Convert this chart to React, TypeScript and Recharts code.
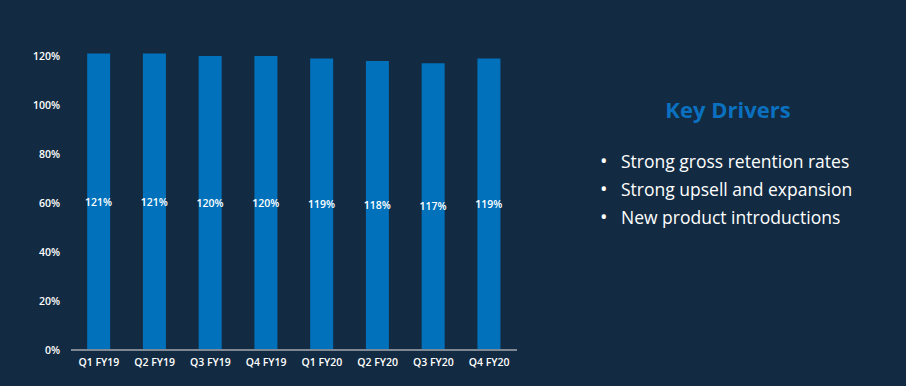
import React from 'react';
import { BarChart, Bar, XAxis, YAxis, LabelList } from 'recharts';

const quarters = ['Q1 FY19', 'Q2 FY19', 'Q3 FY19', 'Q4 FY19', 'Q1 FY20', 'Q2 FY20', 'Q3 FY20', 'Q4 FY20'];
const retention = [121, 121, 120, 120, 119, 118, 117, 119];
const yTicks = [0, 20, 40, 60, 80, 100, 120];
const title = 'Key Drivers';
const drivers = ['Strong gross retention rates', 'Strong upsell and expansion', 'New product introductions'];

const data = quarters.map((q, i) => ({ quarter: q, value: retention[i] }));

const BG = '#132b42';
const BAR = '#0071ba';
const FONT = '"Open Sans", Lato, sans-serif';

export default function App() {
  return (
    <div style={{ position: 'absolute', left: 0, top: 0, width: 906, height: 386, background: BG, fontFamily: FONT, overflow: 'hidden' }}>
      <div style={{ position: 'absolute', left: 0, top: 0 }}>
        <BarChart width={530} height={386} data={data} margin={{ top: 7, right: 13, bottom: 6, left: 0 }} barCategoryGap="29%">
          <XAxis
            dataKey="quarter"
            tickLine={false}
            axisLine={{ stroke: '#7d8894', strokeWidth: 2 }}
            tick={{ fill: '#ffffff', fontSize: 10.5, fontWeight: 600, fontFamily: FONT }}
            tickMargin={3}
            interval={0}
          />
          <YAxis
            domain={[0, 140]}
            ticks={yTicks}
            width={71}
            tickLine={false}
            axisLine={false}
            tickMargin={5}
            tickFormatter={(v: number) => `${v}%`}
            tick={{ fill: '#ffffff', fontSize: 10.5, fontWeight: 600, fontFamily: FONT }}
          />
          <Bar dataKey="value" fill={BAR} isAnimationActive={false}>
            <LabelList
              dataKey="value"
              position="center"
              formatter={(v: number) => `${v}%`}
              style={{ fill: '#ffffff', fontSize: 10.5, fontWeight: 600, fontFamily: FONT }}
            />
          </Bar>
        </BarChart>
      </div>
      <div style={{ position: 'absolute', left: 628, top: 94, width: 200, textAlign: 'center', color: '#0a70bf', fontSize: 22, fontWeight: 700 }}>
        {title}
      </div>
      <div style={{ position: 'absolute', left: 600, top: 147 }}>
        {drivers.map((d) => (
          <div key={d} style={{ color: '#ffffff', fontSize: 17.5, fontWeight: 500, lineHeight: '28px', whiteSpace: 'nowrap' }}>
            <span style={{ display: 'inline-block', width: 21, fontSize: 20 }}>•</span>
            {d}
          </div>
        ))}
      </div>
    </div>
  );
}
